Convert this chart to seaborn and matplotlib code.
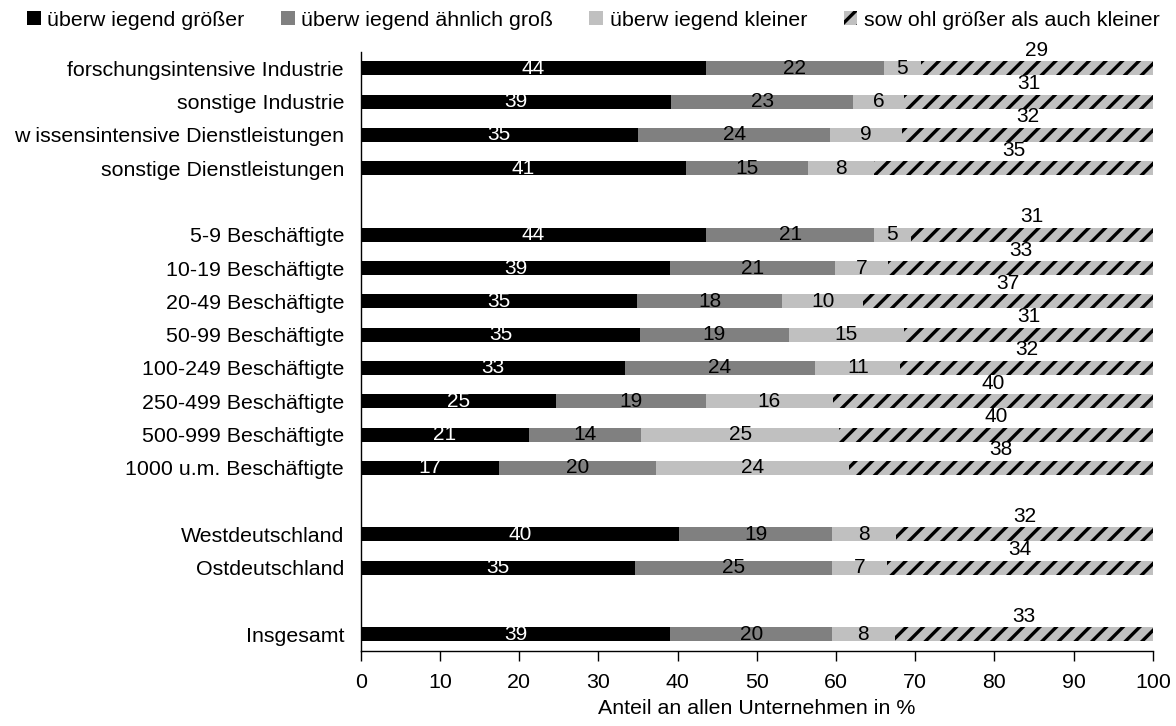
import numpy as np
import pandas as pd
import matplotlib
matplotlib.use("Agg")
import matplotlib.pyplot as plt
from matplotlib.patches import Patch
import seaborn as sns

# ---------------- data ----------------
sector_cats = ["forschungsintensive Industrie", "sonstige Industrie",
               "w issensintensive Dienstleistungen", "sonstige Dienstleistungen"]
size_cats = ["5-9 Beschäftigte", "10-19 Beschäftigte", "20-49 Beschäftigte",
             "50-99 Beschäftigte", "100-249 Beschäftigte", "250-499 Beschäftigte",
             "500-999 Beschäftigte", "1000 u.m. Beschäftigte"]
region_cats = ["Westdeutschland", "Ostdeutschland"]
total_cats = ["Insgesamt"]

series_names = ["überw iegend größer", "überw iegend ähnlich groß",
                "überw iegend kleiner", "sow ohl größer als auch kleiner"]

# values in category order: sector, size, region, total
groesser = [43.6, 39.2, 35.0, 41.1,
            43.6, 39.1, 34.9, 35.3, 33.3, 24.6, 21.3, 17.4,
            40.2, 34.6,
            39.1]
aehnlich = [22.4, 23.0, 24.3, 15.3,
            21.2, 20.8, 18.3, 18.7, 24.1, 19.0, 14.1, 19.9,
            19.3, 24.9,
            20.4]
kleiner = [4.7, 6.4, 9.0, 8.4,
           4.6, 6.7, 10.2, 14.6, 10.7, 16.0, 25.0, 24.3,
           8.1, 6.9,
           7.9]
beides = [29.3, 31.4, 31.7, 35.2,
          30.6, 33.4, 36.6, 31.4, 31.9, 40.4, 39.6, 38.4,
          32.4, 33.6,
          32.6]

x_ticks = [0, 10, 20, 30, 40, 50, 60, 70, 80, 90, 100]
x_label = "Anteil an allen Unternehmen in %"

# ---------------- styling ----------------
sns.set_style("ticks")
plt.rcParams["font.family"] = ["Liberation Sans", "DejaVu Sans"]
plt.rcParams["text.color"] = "black"
plt.rcParams["axes.labelcolor"] = "black"
plt.rcParams["xtick.color"] = "black"
plt.rcParams["ytick.color"] = "black"
plt.rcParams["hatch.linewidth"] = 2.4
plt.rcParams["hatch.color"] = "black"

colors = ["#000000", "#808080", "#c0c0c0", "#c0c0c0"]
label_colors = ["white", "black", "black", "black"]
FS = 15.4
FS_VAL = 15

categories = sector_cats + size_cats + region_cats + total_cats
order = sector_cats + [" "] + size_cats + ["  "] + region_cats + ["   "] + total_cats

stack = np.array([groesser, aehnlich, kleiner, beides]).T
cum = np.cumsum(stack, axis=1)

rows = []
for i, c in enumerate(categories):
    for j, s in enumerate(series_names):
        rows.append({"Kategorie": c, "Serie": s, "Wert": stack[i, j], "Kum": cum[i, j]})
df = pd.DataFrame(rows)

fig = plt.figure(figsize=(11.76, 7.26), dpi=100)
ax = fig.add_axes([0.3067, 0.1033, 0.6737, 0.8256])

# draw back-to-front cumulative layers
for j in [3, 2, 1, 0]:
    sub = df[df["Serie"] == series_names[j]]
    kw = dict(linewidth=0, edgecolor=colors[j])
    if j == 3:
        kw = dict(linewidth=0, edgecolor="black", hatch="//")
    sns.barplot(data=sub, x="Kum", y="Kategorie", order=order, orient="h",
                width=0.42, color=colors[j], saturation=1, errorbar=None,
                ax=ax, **kw)

# value labels
for i, c in enumerate(categories):
    ypos = order.index(c)
    for j in range(4):
        v = stack[i, j]
        xc = cum[i, j] - v / 2
        yy = ypos - 0.54 if j == 3 else ypos
        ax.text(xc, yy, f"{v:.0f}", ha="center", va="center",
                color=label_colors[j], fontsize=FS_VAL)

ax.set_xlim(0, 100)
ax.set_ylim(len(order) - 0.5, -0.5)
ax.set_xticks(x_ticks)
ax.set_xticklabels([str(t) for t in x_ticks], fontsize=FS)
ax.set_xlabel(x_label, fontsize=FS, labelpad=5, color="black")
ax.set_ylabel("")
ax.tick_params(axis="y", length=0, pad=12, labelsize=FS, labelcolor="black")
ax.tick_params(axis="x", length=7, width=1, pad=9, color="black",
               labelcolor="black", direction="out")
for s in ["top", "right"]:
    ax.spines[s].set_visible(False)
for s in ["left", "bottom"]:
    ax.spines[s].set_color("black")
    ax.spines[s].set_linewidth(1)

handles = [Patch(facecolor=colors[0], edgecolor="none"),
           Patch(facecolor=colors[1], edgecolor="none"),
           Patch(facecolor=colors[2], edgecolor="none"),
           Patch(facecolor=colors[3], edgecolor="black", linewidth=0, hatch="//")]
leg = fig.legend(handles, series_names, loc="center left",
                 bbox_to_anchor=(27 / 1176, 1 - 20 / 726),
                 ncol=4, frameon=False, fontsize=FS, handlelength=0.65, handleheight=0.65,
                 handletextpad=0.3, columnspacing=1.7, borderaxespad=0, borderpad=0)
for t in leg.get_texts():
    t.set_color("black")

fig.savefig("out.png", dpi=100)
